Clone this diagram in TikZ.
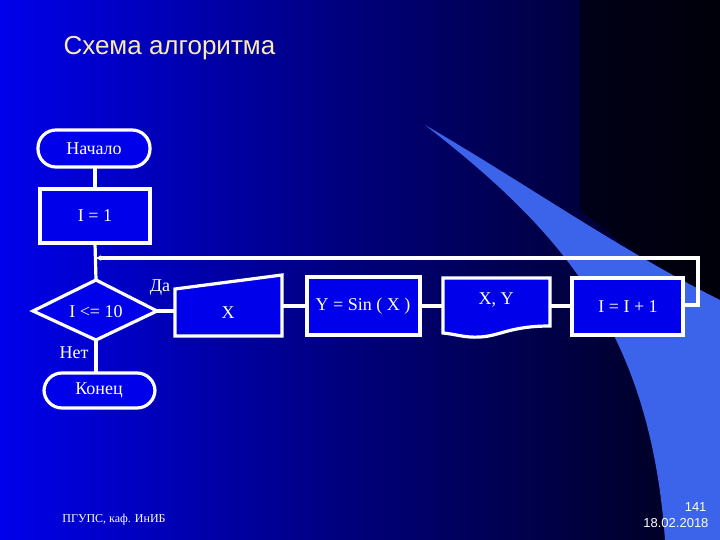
\documentclass[tikz,border=0pt]{standalone}
\usepackage{fontspec}
\setmainfont{Liberation Serif}
\newfontfamily\sansf{Liberation Sans}
\usetikzlibrary{shapes.geometric,arrows.meta}
\definecolor{bxblue}{RGB}{0,0,235}
\definecolor{swoosh}{RGB}{60,100,235}
\definecolor{titlec}{RGB}{250,235,180}
\begin{document}
\begin{tikzpicture}[x=1pt,y=-1pt,
  ln/.style={draw=white,line width=3.2pt},
  blk/.style={ln,fill=bxblue},
  txt/.style={text=white,font=\fontsize{18}{20}\selectfont}]
\useasboundingbox (0,0) rectangle (720,540);
\shade[left color={rgb,255:red,0;green,0;blue,235}, right color={rgb,255:red,0;green,0;blue,25},middle color={rgb,255:red,0;green,0;blue,120}] (0,0) rectangle (720,540);
\fill[black,opacity=0.6] (580,0) -- (720,0) -- (720,300) .. controls (650,265) .. (580,210) -- cycle;
\fill[swoosh] (425,125) .. controls (560,230) and (650,330) .. (665,540) -- (720,540) -- (720,300) .. controls (620,250) and (520,180) .. (425,125) -- cycle;
\node[anchor=west,text=titlec,font=\sansf\fontsize{26}{29}\selectfont] (title) at (60,48) {Схема алгоритма};
% nodes
\draw[blk,rounded corners=18pt] (38,130) rectangle (150,167);
\node[txt] (start) at (94,149) {Начало};
\draw[blk] (40,189) rectangle (150,243);
\node[txt] (init) at (95,216) {I = 1};
\coordinate (initb) at (95,243);
\coordinate (initt) at (95,189);
\coordinate (startb) at (95,167);
\draw[blk] (96,280) -- (157,311) -- (96,340) -- (33,311) -- cycle;
\node[txt] (cond) at (96,312) {I <= 10};
\coordinate (dtop) at (96,280);\coordinate (dright) at (157,311);\coordinate (dbot) at (96,340);
\draw[blk] (175,289) -- (282,275) -- (282,336) -- (175,336) -- cycle;
\node[txt] (inp) at (228,313) {X};
\draw[blk] (307,277) rectangle (420,335);
\node[txt] (calc) at (363,306) {Y = Sin ( X )};
\draw[blk] (443,278) -- (550,278) -- (550,326) .. controls (510,326) and (500,336) .. (480,337) .. controls (465,338) and (455,334) .. (443,333) -- cycle;
\node[txt] (out) at (496,300) {X, Y};
\draw[blk] (572,278) rectangle (683,335);
\node[txt] (inc) at (628,307) {I = I + 1};
\draw[blk,rounded corners=18pt] (44,373) rectangle (155,408);
\node[txt] (fin) at (99,390) {Конец};
% connectors
\draw[ln] (startb) -- (initt);
\draw[ln] (initb) -- (dtop);
\draw[ln] (dright) -- (175,311);
\draw[ln] (282,306) -- (307,306);
\draw[ln] (420,306) -- (443,306);
\draw[ln] (550,306) -- (572,306);
\draw[ln] (dbot) -- (96,373);
\draw[ln,-{Triangle[length=5pt,width=5pt]}] (683,305) -- (698,305) -- (698,258) -- (96,258);
\node[txt] (yes) at (160,288) {Да};
\node[txt] (no) at (74,353) {Нет};
% footer
\node[text=white,font=\fontsize{12}{14}\selectfont] (ft) at (114,520) {ПГУПС, каф. ИнИБ};
\node[text=white,anchor=east,font=\sansf\fontsize{13}{15}\selectfont] (pg) at (710,507) {141};
\node[text=white,anchor=east,font=\sansf\fontsize{13}{15}\selectfont] (dt) at (712,523) {18.02.2018};
\end{tikzpicture}
\end{document}
